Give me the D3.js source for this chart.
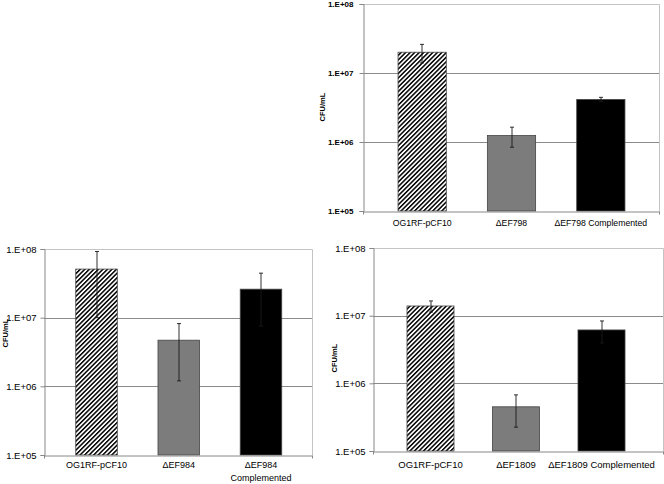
<!DOCTYPE html>
<html>
<head>
<meta charset="utf-8">
<script src="https://cdn.jsdelivr.net/npm/d3@7"></script>
<style>
  html, body { margin: 0; padding: 0; background: #fff; }
  svg { display: block; }
  text { font-family: "Liberation Sans", Arial, sans-serif; fill: #000; }
</style>
</head>
<body>
<svg id="chart" width="664" height="484"></svg>
<script>
// ---------- data ----------
const tickValues = [1e5, 1e6, 1e7, 1e8];
const tickLabels = ["1.E+05", "1.E+06", "1.E+07", "1.E+08"];
const yTitle = "CFU/mL";

const categoriesA = ["OG1RF-pCF10", "ΔEF798", "ΔEF798 Complemented"];
const valuesA = [2.0e7, 1.24e6, 4.14e6];
const errorsA = [6.0e6, 4.0e5, 3.0e5];

const categoriesB = ["OG1RF-pCF10", "ΔEF984", "ΔEF984\nComplemented"];
const valuesB = [5.1e7, 4.7e6, 2.6e7];
const errorsB = [4.1e7, 3.5e6, 1.85e7];

const categoriesC = ["OG1RF-pCF10", "ΔEF1809", "ΔEF1809 Complemented"];
const valuesC = [1.39e7, 4.5e5, 6.15e6];
const errorsC = [2.6e6, 2.25e5, 2.2e6];

const fills = ["url(#hatch)", "#7c7c7c", "#000000"];

// ---------- layout ----------
const panels = [
  { cats: categoriesA, vals: valuesA, errs: errorsA,
    left: 363, right: 659, top: 4, bottom: 211,
    band: [377.5, 645.5], pIn: 0.46, pOut: 0.23,
    tickFont: 8, tickBold: true, catFont: 8.7, catBold: false, catY: 226, titleX: 322, titleY: 107, titleFont: 7.5 },
  { cats: categoriesB, vals: valuesB, errs: errorsB,
    left: 44, right: 312, top: 249, bottom: 455,
    band: [55.4, 302.1], pIn: 0.495, pOut: 0.2475,
    tickFont: 9.5, tickBold: false, catFont: 9, catBold: false, catY: 468, titleX: 5, titleY: 333, titleFont: 7.5 },
  { cats: categoriesC, vals: valuesC, errs: errorsC,
    left: 373, right: 663, top: 248, bottom: 451,
    band: [387.75, 644.25], pIn: 0.45, pOut: 0.225,
    tickFont: 9.5, tickBold: false, catFont: 9.5, catBold: false, catY: 468, titleX: 334, titleY: 358, titleFont: 7.5 }
];

const svg = d3.select("#chart");
const defs = svg.append("defs");
const pat = defs.append("pattern")
  .attr("id", "hatch").attr("patternUnits", "userSpaceOnUse")
  .attr("width", 3.2).attr("height", 3.2)
  .attr("patternTransform", "rotate(45)");
pat.append("rect").attr("width", 3.2).attr("height", 3.2).attr("fill", "#fff");
pat.append("rect").attr("width", 1.5).attr("height", 3.2).attr("fill", "#000");

panels.forEach(p => {
  const g = svg.append("g");
  const y = d3.scaleLog().domain([1e5, 1e8]).range([p.bottom, p.top]);
  const x = d3.scaleBand().domain(p.cats).range(p.band)
    .paddingInner(p.pIn).paddingOuter(p.pOut);

  // plot border (top/right)
  g.append("path")
    .attr("d", `M${p.left},${y(1e8)+0.5}H${p.right+0.5}V${p.bottom}`)
    .attr("fill", "none").attr("stroke", "#c4c4c4").attr("stroke-width", 1);

  // gridlines
  g.selectAll(".grid").data(tickValues.slice(1, 3)).join("line")
    .attr("x1", p.left).attr("x2", p.right)
    .attr("y1", d => Math.round(y(d)) + 0.5).attr("y2", d => Math.round(y(d)) + 0.5)
    .attr("stroke", "#8a8a8a").attr("stroke-width", 1);

  // bars
  g.selectAll(".bar").data(p.cats).join("rect")
    .attr("x", d => x(d)).attr("width", x.bandwidth())
    .attr("y", (d, i) => y(p.vals[i]))
    .attr("height", (d, i) => p.bottom - y(p.vals[i]))
    .attr("fill", (d, i) => fills[i])
    .attr("stroke", "#444").attr("stroke-width", 0.8);

  // error bars
  const eb = g.selectAll(".err").data(p.cats).join("g")
    .attr("stroke", "#1a1a1a").attr("stroke-width", 0.9);
  const cx = d => Math.round(x(d) + x.bandwidth() / 2);
  eb.append("line")
    .attr("x1", cx).attr("x2", cx)
    .attr("y1", (d, i) => y(p.vals[i] + p.errs[i]))
    .attr("y2", (d, i) => y(Math.max(p.vals[i] - p.errs[i], 1e5)));
  eb.append("line")
    .attr("x1", d => cx(d) - 2).attr("x2", d => cx(d) + 2)
    .attr("y1", (d, i) => y(p.vals[i] + p.errs[i]))
    .attr("y2", (d, i) => y(p.vals[i] + p.errs[i]));
  eb.append("line")
    .attr("x1", d => cx(d) - 2).attr("x2", d => cx(d) + 2)
    .attr("y1", (d, i) => y(Math.max(p.vals[i] - p.errs[i], 1e5)))
    .attr("y2", (d, i) => y(Math.max(p.vals[i] - p.errs[i], 1e5)));

  // y axis
  const yAxis = d3.axisLeft(y).tickValues(tickValues)
    .tickFormat((d, i) => tickLabels[i]).tickSize(4).tickPadding(p.tickBold ? 6 : 4);
  const ya = g.append("g").attr("transform", `translate(${p.left + 0.5},0)`).call(yAxis);
  ya.select(".domain").attr("stroke", "#888");
  ya.selectAll(".tick line").attr("stroke", "#888");
  ya.selectAll(".tick text")
    .attr("font-size", p.tickFont)
    .attr("font-weight", p.tickBold ? "bold" : "normal")
    .attr("font-family", "Liberation Sans, Arial, sans-serif").attr("fill", "#000");

  // x axis (baseline with end ticks only)
  const xs = d3.scaleLinear().domain([0, 1]).range([p.left, p.right]);
  const xAxis = d3.axisBottom(xs).tickValues([0, 1]).tickFormat("").tickSize(3).tickSizeOuter(0);
  const xa = g.append("g").attr("transform", `translate(0,${p.bottom + 0.5})`).call(xAxis);
  xa.select(".domain").attr("stroke", "#888");
  xa.selectAll(".tick line").attr("stroke", "#888");

  // category labels
  const cl = g.selectAll(".cat").data(p.cats).join("text")
    .attr("x", d => x(d) + x.bandwidth() / 2)
    .attr("y", p.catY)
    .attr("text-anchor", "middle")
    .attr("font-size", p.catFont)
    .attr("font-weight", p.catBold ? "bold" : "normal");
  cl.each(function(d) {
    const lines = d.split("\n");
    const t = d3.select(this);
    lines.forEach((ln, k) => {
      t.append("tspan").attr("x", x(d) + x.bandwidth() / 2)
        .attr("dy", k === 0 ? 0 : "1.45em").text(ln);
    });
  });

  // y title
  g.append("text")
    .attr("transform", `translate(${p.titleX + 3},${p.titleY}) rotate(-90)`)
    .attr("text-anchor", "middle")
    .attr("font-size", p.titleFont).attr("font-weight", "bold")
    .text(yTitle);
});
</script>
</body>
</html>
